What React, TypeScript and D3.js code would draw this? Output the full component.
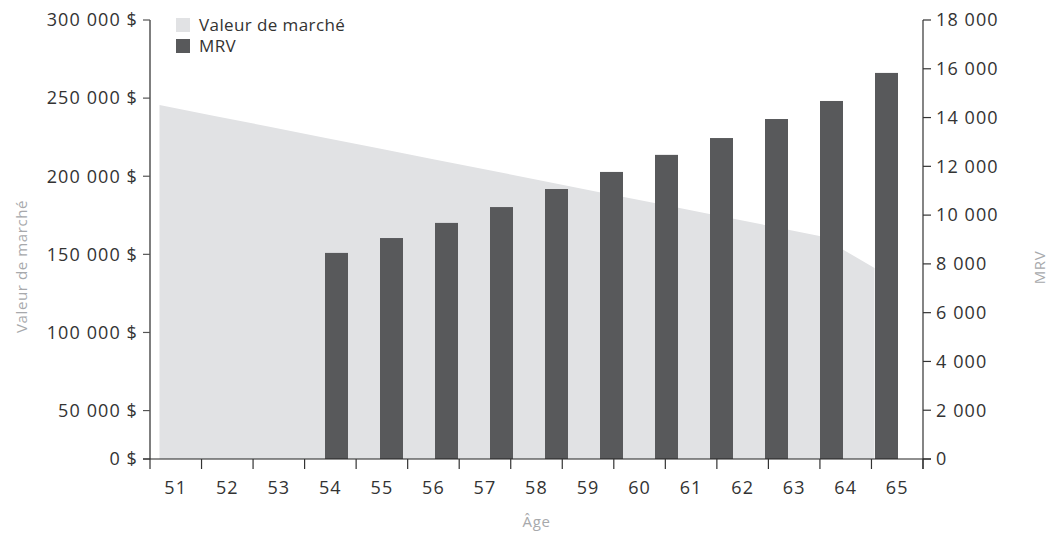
import React from "react";
import * as d3 from "d3";

// Ages shown on the horizontal axis
const AXIS_AGES = [51, 52, 53, 54, 55, 56, 57, 58, 59, 60, 61, 62, 63, 64, 65];
// Ages used to place the marks
const MARK_AGES = [51, 52, 53, 54, 55, 56, 57, 58, 59, 60, 61, 62, 63, 64];
// Market value (left axis)
const MARKET_VALUE = [
  245600, 238600, 231700, 224700, 217700, 210700, 203800,
  196800, 189800, 182800, 175800, 168800, 161800, 141300,
];
// MRV bars (right axis)
const MRV_AGES = [54, 55, 56, 57, 58, 59, 60, 61, 62, 63, 64];
const MRV_VALUES = [8450, 9060, 9680, 10330, 11070, 11770, 12470, 13160, 13940, 14680, 15830];

const LEFT_TICKS = [0, 50000, 100000, 150000, 200000, 250000, 300000];
const RIGHT_TICKS = [0, 2000, 4000, 6000, 8000, 10000, 12000, 14000, 16000, 18000];

const W = 1055;
const H = 534;
const LEFT = 150;
const RIGHT = 923;
const TOP = 20;
const BOTTOM = 459;

const AREA_COLOR = "#e1e2e4";
const BAR_COLOR = "#58595b";
const TEXT_COLOR = "#333333";
const TITLE_COLOR = "#a7a9ac";
const FONT = "'Open Sans', Lato, sans-serif";
const TICK_FONT = 18;
const TICK_LS = 1.1;

const fr = d3.formatLocale({
  decimal: ",",
  thousands: "\u00a0",
  grouping: [3],
  currency: ["", "\u00a0$"],
});
const fmtMoney = fr.format("$,");
const fmtNum = fr.format(",");

export default function App() {
  const xAxis = d3.scaleBand<number>().domain(AXIS_AGES).range([LEFT, RIGHT]);
  const xMark = d3.scaleBand<number>().domain(MARK_AGES).range([LEFT, 920]);
  const yLeft = d3.scaleLinear().domain([19000, 300000]).range([BOTTOM, TOP]).clamp(true);
  const yRight = d3.scaleLinear().domain([0, 18000]).range([BOTTOM, TOP]);

  const barOffset = 10;
  const barWidth = 23;
  const areaOffset = 9.5;

  const areaPath = d3
    .area<number>()
    .x((_, i) => (xMark(MARK_AGES[i]) as number) + areaOffset)
    .y0(yLeft(0))
    .y1((d) => yLeft(d))(MARKET_VALUE) as string;

  const edges = AXIS_AGES.map((a) => xAxis(a) as number).concat([RIGHT]);

  return (
    <svg
      width={W}
      height={H}
      style={{ position: "absolute", left: 0, top: 0, display: "block", background: "#fff" }}
      fontFamily={FONT}
    >
      {/* market value area */}
      <path d={areaPath} fill={AREA_COLOR} />

      {/* MRV bars */}
      {MRV_AGES.map((age, i) => (
        <rect
          key={age}
          x={(xMark(age) as number) + barOffset}
          y={yRight(MRV_VALUES[i])}
          width={barWidth}
          height={yRight(0) - yRight(MRV_VALUES[i])}
          fill={BAR_COLOR}
        />
      ))}

      {/* left axis */}
      <line x1={LEFT} x2={LEFT} y1={TOP} y2={BOTTOM} stroke="#555" strokeWidth={1.5} />
      {LEFT_TICKS.map((t) => (
        <g key={t} transform={`translate(0,${yLeft(t)})`}>
          <line x1={LEFT - 7} x2={LEFT} stroke="#555" strokeWidth={1.2} />
          <text
            x={LEFT - 12}
            dy="0.35em"
            textAnchor="end"
            fontSize={TICK_FONT}
            letterSpacing={TICK_LS}
            fill={TEXT_COLOR}
          >
            {fmtMoney(t)}
          </text>
        </g>
      ))}

      {/* right axis */}
      <line x1={RIGHT} x2={RIGHT} y1={TOP} y2={BOTTOM + 10} stroke="#333" strokeWidth={1.2} />
      {RIGHT_TICKS.map((t) => (
        <g key={t} transform={`translate(0,${yRight(t)})`}>
          <line x1={RIGHT} x2={RIGHT + 8} stroke="#333" strokeWidth={1.2} />
          <text
            x={RIGHT + 13}
            dy="0.35em"
            textAnchor="start"
            fontSize={TICK_FONT}
            letterSpacing={TICK_LS}
            fill={TEXT_COLOR}
          >
            {fmtNum(t)}
          </text>
        </g>
      ))}

      {/* bottom axis */}
      <line x1={LEFT - 7} x2={RIGHT + 8} y1={BOTTOM} y2={BOTTOM} stroke="#222" strokeWidth={1.2} />
      {edges.map((x, i) => (
        <line key={i} x1={x} x2={x} y1={BOTTOM} y2={BOTTOM + 10} stroke="#333" strokeWidth={1.2} />
      ))}
      {AXIS_AGES.map((a) => (
        <text
          key={a}
          x={(xAxis(a) as number) + xAxis.bandwidth() / 2}
          y={488}
          dy="0.35em"
          textAnchor="middle"
          fontSize={TICK_FONT}
          letterSpacing={TICK_LS}
          fill={TEXT_COLOR}
        >
          {a}
        </text>
      ))}

      {/* axis titles */}
      <text
        transform={`translate(22,${(TOP + BOTTOM) / 2 + 27}) rotate(-90)`}
        textAnchor="middle"
        dy="0.35em"
        fontSize={15}
        letterSpacing={0.6}
        fill={TITLE_COLOR}
      >
        Valeur de marché
      </text>
      <text
        transform={`translate(1040,${(TOP + BOTTOM) / 2 + 28}) rotate(-90)`}
        textAnchor="middle"
        dy="0.35em"
        fontSize={15}
        letterSpacing={0.6}
        fill={TITLE_COLOR}
      >
        MRV
      </text>
      <text
        x={(LEFT + RIGHT) / 2}
        y={522}
        textAnchor="middle"
        dy="0.35em"
        fontSize={15}
        letterSpacing={0.6}
        fill={TITLE_COLOR}
      >
        Âge
      </text>

      {/* legend */}
      <rect x={176} y={18} width={14} height={14} fill={AREA_COLOR} />
      <text x={199} y={25} dy="0.35em" fontSize={17} letterSpacing={0.4} fill={TEXT_COLOR}>
        Valeur de marché
      </text>
      <rect x={176} y={39} width={14} height={14} fill={BAR_COLOR} />
      <text x={199} y={46} dy="0.35em" fontSize={17} letterSpacing={0.4} fill={TEXT_COLOR}>
        MRV
      </text>
    </svg>
  );
}
